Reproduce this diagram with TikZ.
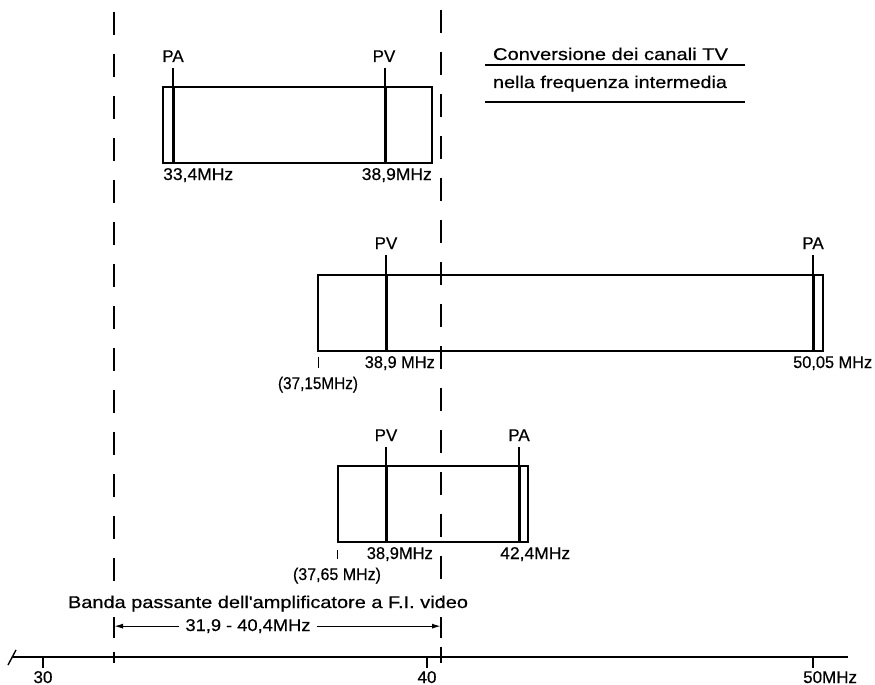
\documentclass[tikz,border=0pt]{standalone}
\usepackage{fontspec}
\setmainfont{Liberation Sans}
\newfontfamily\labfont{Liberation Sans}[FakeBold=0.5]
\usetikzlibrary{arrows.meta}
\begin{document}
\begin{tikzpicture}[x=1pt,y=-1pt,
  lab/.style={font=\labfont\fontsize{17}{19}\selectfont, inner sep=0pt, anchor=base},
  boxline/.style={line width=1.7pt},
  carrier/.style={line width=3pt},
  stem/.style={line width=1.3pt},
  band/.style={line width=1.8pt, dash pattern=on 23pt off 19pt},
  bandbar/.style={line width=1.8pt},
  rule/.style={line width=1.3pt},
  axisline/.style={line width=1.4pt},
  smalltick/.style={line width=1pt},
  arr/.style={line width=1.3pt, -{Latex[length=9pt,width=5pt]}}]
\useasboundingbox (0,0) rectangle (875,685);

% pass-band limits
\draw[band] (114,12) -- (114,600);
\draw[band] (441,10) -- (441,600);
\draw[bandbar] (114,617) -- (114,638);
\draw[bandbar] (441,617) -- (441,638);
\draw[bandbar] (114,652) -- (114,663);
\draw[bandbar] (441,647) -- (441,663);

% title
\node[lab] (t1) at (610.5,60) {\resizebox{235pt}{\height}{Conversione dei canali TV}};
\node[lab] (t2) at (610,88) {\resizebox{234pt}{\height}{nella frequenza intermedia}};
\draw[rule] (485,65) -- (745,65);
\draw[rule] (485,102) -- (745,102);

% ---- channel 1
\draw[boxline] (163,87) rectangle (432,163);
\draw[carrier] (173,87) -- (173,163);
\draw[stem] (173,68) -- (173,87);
\draw[carrier] (385,87) -- (385,163);
\draw[stem] (385,68) -- (385,87);
\node[lab] (pa1) at (173,62) {PA};
\node[lab] (pv1) at (384,62) {PV};
\node[lab, anchor=base west] (f1a) at (163,180) {\resizebox{70pt}{\height}{33,4MHz}};
\node[lab, anchor=base east] (f1v) at (432,180) {\resizebox{70pt}{\height}{38,9MHz}};

% ---- channel 2
\draw[boxline] (318,275) rectangle (823,351);
\draw[carrier] (386,275) -- (386,351);
\draw[stem] (386,255) -- (386,275);
\draw[carrier] (813,275) -- (813,351);
\draw[stem] (813,255) -- (813,275);
\node[lab] (pv2) at (386,249) {PV};
\node[lab] (pa2) at (813,249) {PA};
\draw[smalltick] (318,357) -- (318,368);
\node[lab, anchor=base east] (f2v) at (435,368) {\resizebox{70pt}{\height}{38,9 MHz}};
\node[lab, anchor=base west] (f2a) at (793,368) {\resizebox{79pt}{\height}{50,05 MHz}};
\node[lab] (f2l) at (318,389) {\resizebox{80pt}{\height}{(37,15MHz)}};

% ---- channel 3
\draw[boxline] (338,466) rectangle (528,542);
\draw[carrier] (386,466) -- (386,542);
\draw[stem] (386,447) -- (386,466);
\draw[carrier] (519,466) -- (519,542);
\draw[stem] (519,447) -- (519,466);
\node[lab] (pv3) at (386,441) {PV};
\node[lab] (pa3) at (519,441) {PA};
\draw[smalltick] (337,550) -- (337,559);
\node[lab, anchor=base east] (f3v) at (433,559) {\resizebox{66pt}{\height}{38,9MHz}};
\node[lab, anchor=base west] (f3a) at (500,559) {\resizebox{70pt}{\height}{42,4MHz}};
\node[lab] (f3l) at (337,580) {\resizebox{88pt}{\height}{(37,65 MHz)}};

% ---- pass band
\node[lab] (bp) at (268,608) {\resizebox{400pt}{\height}{Banda passante dell'amplificatore a F.I. video}};
\node[lab] (rng) at (248,631) {\resizebox{125pt}{\height}{31,9 - 40,4MHz}};
\coordinate (al) at (114,626);
\coordinate (ar) at (441,626);
\draw[arr] ([xshift=-6pt]rng.west) -- (rng.west -| al);
\draw[arr] ([xshift=6pt]rng.east) -- (rng.east -| ar);

% ---- frequency axis
\draw[axisline] (13,657) -- (848,657);
\draw[axisline] (8,665) -- (16,650);
\draw[axisline] (43,657) -- (43,668);
\draw[axisline] (427,657) -- (427,668);
\draw[axisline] (813,657) -- (813,668);
\node[lab] (n30) at (43,683) {30};
\node[lab] (n40) at (427,683) {40};
\node[lab, anchor=base west] (n50) at (803,683) {50MHz};
\end{tikzpicture}
\end{document}
